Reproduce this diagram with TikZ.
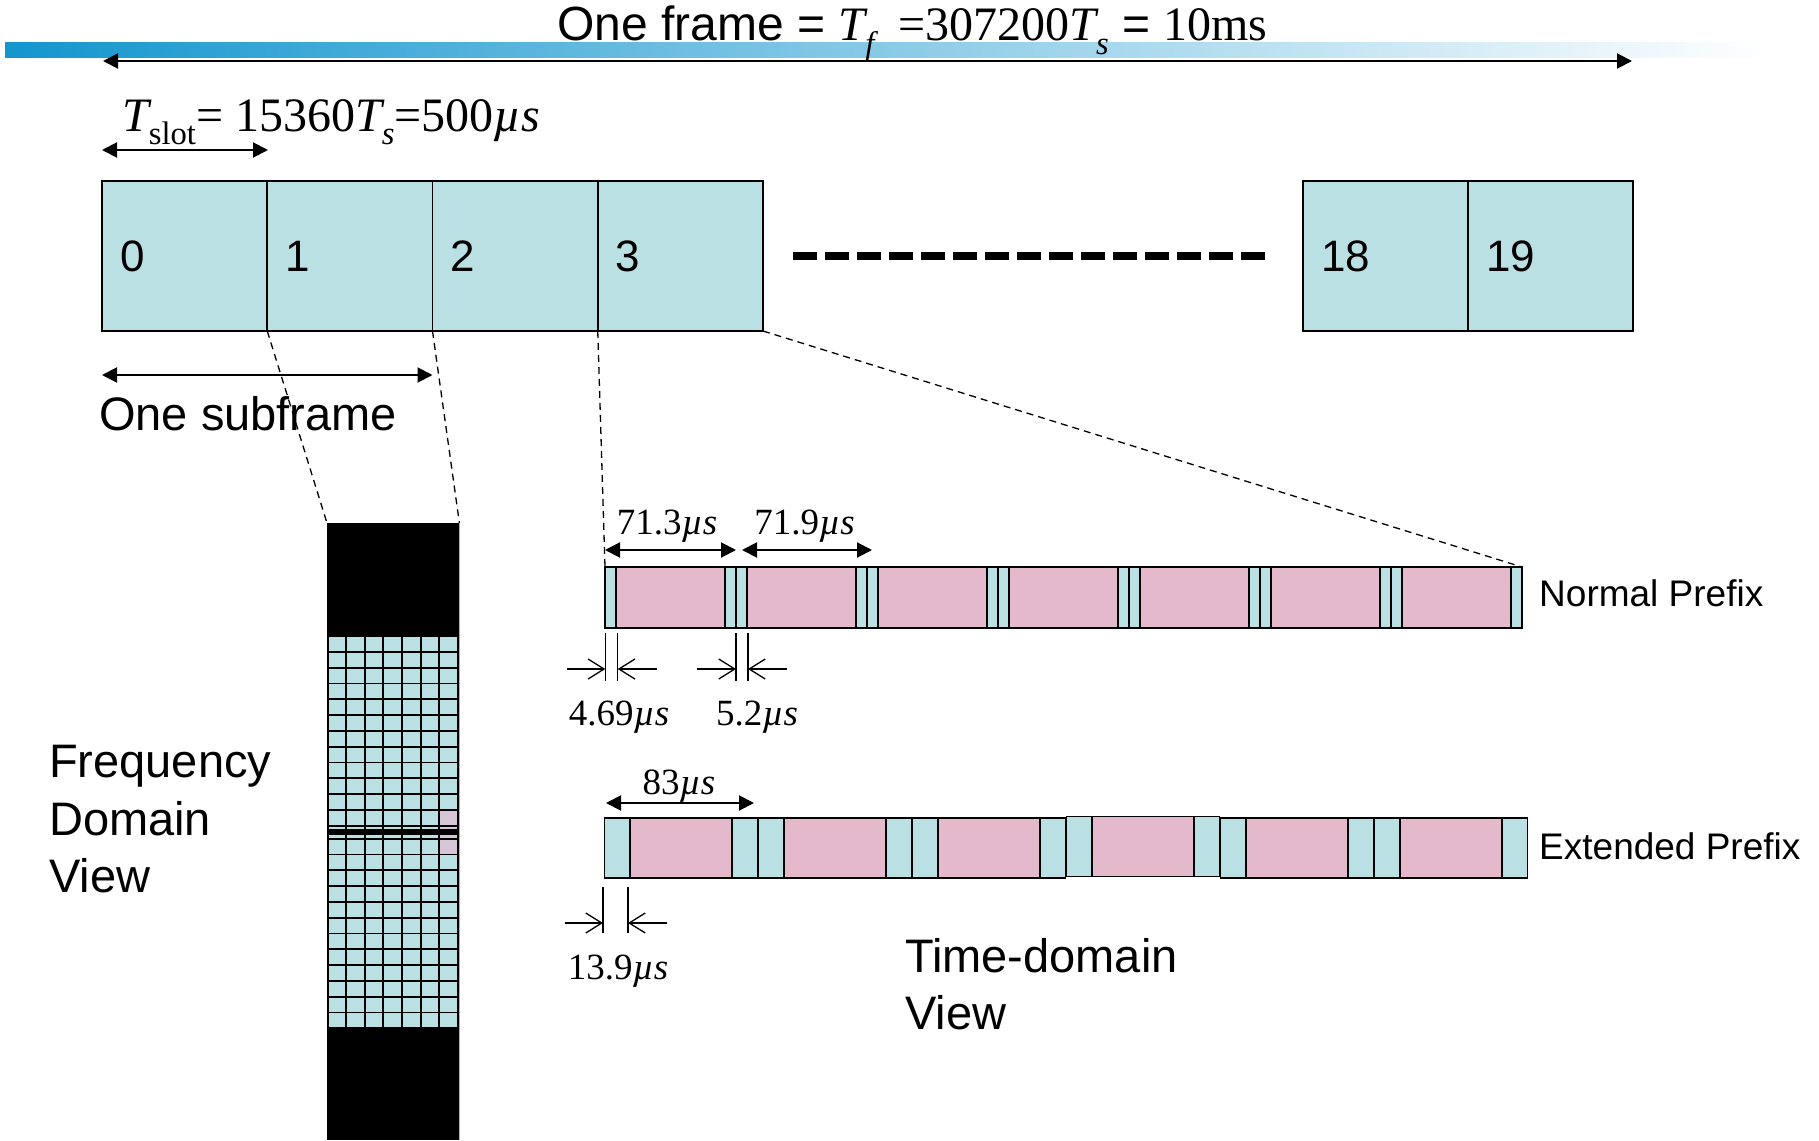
\documentclass[tikz,border=0pt]{standalone}
\usepackage{fontspec}
\setmainfont{Liberation Serif}
\newfontfamily\arialf{Liberation Sans}
\usetikzlibrary{arrows.meta,calc}

\definecolor{slotfill}{RGB}{187,224,227}
\definecolor{symfill}{RGB}{229,185,204}
\definecolor{rbfill}{RGB}{214,197,214}
\definecolor{barblue}{RGB}{19,150,206}
\definecolor{barmid}{RGB}{160,200,228}

% lowered, reduced subscript in running text
\newcommand\dn[1]{\raisebox{-0.28em}{\scalebox{0.68}{#1}}}
\newcommand\us{{\itshape µs}}

\begin{document}
\begin{tikzpicture}[x=1pt,y=-1pt,
  slotbox/.style={draw, line width=1.8pt, outer sep=0pt, fill=slotfill, minimum width=165.25pt,
    minimum height=150pt, inner xsep=18pt, text width=129pt, align=left,
    anchor=north west, font=\arialf\fontsize{44}{52}\selectfont},
  dimarrow/.style={line width=2pt,
    {Triangle[length=15pt,width=15pt]}-{Triangle[length=15pt,width=15pt]}},
  barbarrow/.style={line width=1.3pt, -{Straight Barb[length=16pt,width=20pt]}},
  tick/.style={line width=1.3pt},
  zoomline/.style={line width=1.3pt, dash pattern=on 7pt off 5pt},
  cell/.style={draw=black, line width=1.5pt},
  tnr/.style={inner sep=0pt, anchor=base, font=\fontsize{37}{44}\selectfont},
  sans/.style={inner sep=0pt, font=\arialf\fontsize{47}{57.5}\selectfont},
  sanssmall/.style={inner sep=0pt, anchor=west, font=\arialf\fontsize{37}{44}\selectfont}]

\useasboundingbox (0,0) rectangle (1819,1140);

% header bar with fading
\shade[left color=barblue, middle color=barmid, right color=white] (5,42.5) rectangle (1770,57.5);

% one frame
\coordinate (fl) at (103,61);
\coordinate (fr) at (1632,61);
\draw[dimarrow] (fl) -- (fr);
\node[inner sep=0pt, anchor=base west, font=\fontsize{48}{56}\selectfont] (ttl) at (557,41)
  {{\arialf One frame = }{\itshape T}\dn{\itshape f}\ \ =307200{\itshape T}\dn{\itshape s}{\arialf\ = }10ms};

% slot duration
\node[inner sep=0pt, anchor=base west, font=\fontsize{48}{56}\selectfont] (tslot) at (122,131)
  {{\itshape T}\dn{slot}= 15360{\itshape T}\dn{\itshape s}=500{\itshape µs}};
\coordinate (sl) at (102,150);
\coordinate (sr) at (268,150);
\draw[dimarrow] (sl) -- (sr);

% slots of the frame
\node[slotbox] (s0) at (102,181) {0};
\node[slotbox] (s1) at (s0.north east) {1};
\node[slotbox] (s2) at (s1.north east) {2};
\node[slotbox] (s3) at (s2.north east) {3};
\node[slotbox, minimum width=165pt] (s18) at (1303,181) {18};
\node[slotbox, minimum width=165pt] (s19) at (s18.north east) {19};
\draw[line width=8pt, dash pattern=on 24pt off 8pt]
  ($(s3.east)+(29.5,0)$) -- ($(s18.west)+(-38,0)$);

% one subframe
\draw[dimarrow] (s0.south west |- 0,375) -- (s2.south west |- 0,375);
\node[sans, anchor=west] (sub) at (99,414) {One subframe};

% frequency-domain view
\node[fill=black, inner sep=0pt, minimum width=132pt, minimum height=617pt,
  anchor=north west] (fd) at (327,523) {};
\draw[gray!60, line width=1pt] (fd.north east) -- (fd.south east);
\foreach \c in {0,...,6}{
  \foreach \r in {0,...,11}{
    \fill[slotfill] (328.5+18.6*\c,637+15.8*\r) rectangle ++(16.6,14);
    \fill[slotfill] (328.5+18.6*\c,839.6+15.8*\r) rectangle ++(16.6,14);
  }
  \fill[slotfill] (328.5+18.6*\c,826.6) rectangle ++(16.6,2.6);
  \fill[slotfill] (328.5+18.6*\c,835.2) rectangle ++(16.6,2.8);
}
\fill[rbfill] (328.5+18.6*6,637+15.8*11) rectangle ++(16.6,14);
\fill[rbfill] (328.5+18.6*6,826.6) rectangle ++(16.6,2.6);
\fill[rbfill] (328.5+18.6*6,835.2) rectangle ++(16.6,2.8);
\fill[rbfill] (328.5+18.6*6,839.6) rectangle ++(16.6,14);
\node[sans, anchor=north west, align=left] (fdv) at (49,745) {Frequency\\Domain\\View};

% normal cyclic prefix: 7 symbols per slot
\foreach \i in {0,...,6}{
  \pgfmathsetmacro\xa{605+131*\i}
  \draw[cell, fill=slotfill] (\xa,567) rectangle ++(11,61);
  \draw[cell, fill=symfill] (\xa+11,567) rectangle ++(109,61);
  \draw[cell, fill=slotfill] (\xa+120,567) rectangle ++(11,61);
}
\coordinate (nw) at (605,567);
\coordinate (ne) at (1522,567);
\node[sanssmall] (np) at (1539,593) {Normal Prefix};

% extended cyclic prefix: 6 symbols per slot
\foreach \j/\dy in {0/0,1/0,2/0,3/-1.5,4/0,5/0}{
  \pgfmathsetmacro\xb{604.5+154*\j}
  \draw[cell, fill=slotfill] (\xb,818+\dy) rectangle ++(25.5,60);
  \draw[cell, fill=symfill] (\xb+25.5,818+\dy) rectangle ++(102,60);
  \draw[cell, fill=slotfill] (\xb+127.5,818+\dy) rectangle ++(25.5,60);
}
\node[sanssmall] (ep) at (1539,846) {Extended Prefix};
\node[sans, anchor=north west, align=left] (tdv) at (905,938) {Time-domain\\View};

% zoom lines from the slots
\draw[zoomline] (s1.south west) -- (fd.north west);
\draw[zoomline] (s2.south west) -- (fd.north east);
\draw[zoomline] (s3.south west) -- (nw);
\draw[zoomline] (s3.south east) -- (ne);

% symbol lengths, normal prefix
\coordinate (a1) at (605,550); \coordinate (a2) at (736,550);
\coordinate (a3) at (742,550); \coordinate (a4) at (872,550);
\draw[dimarrow] (a1) -- (a2);
\draw[dimarrow] (a3) -- (a4);
\node[tnr] (l713) at (667,534) {71.3\us};
\node[tnr] (l719) at (804.5,534) {71.9\us};

% cyclic prefix lengths, normal prefix
\coordinate (t1a) at (605.3,633); \coordinate (t1b) at (605.3,681);
\coordinate (t2a) at (617.7,633); \coordinate (t2b) at (617.7,681);
\draw[tick] (t1a) -- (t1b);
\draw[tick] (t2a) -- (t2b);
\coordinate (b1) at (567,669); \coordinate (b2) at (657,669);
\draw[barbarrow] (b1) -- (t1a |- b1);
\draw[barbarrow] (b2) -- (t2a |- b2);
\node[tnr] (l469) at (619,725.5) {4.69\us};

\coordinate (t3a) at (736,633); \coordinate (t3b) at (736,681);
\coordinate (t4a) at (748,633); \coordinate (t4b) at (748,681);
\draw[tick] (t3a) -- (t3b);
\draw[tick] (t4a) -- (t4b);
\coordinate (b3) at (697,669); \coordinate (b4) at (787,669);
\draw[barbarrow] (b3) -- (t3a |- b3);
\draw[barbarrow] (b4) -- (t4a |- b4);
\node[tnr] (l52) at (757,725.5) {5.2\us};

% extended prefix lengths
\coordinate (c1) at (606,803); \coordinate (c2) at (754,803);
\draw[dimarrow] (c1) -- (c2);
\node[tnr] (l83) at (679,794) {83\us};

\coordinate (t5a) at (603,887); \coordinate (t5b) at (603,933);
\coordinate (t6a) at (628,887); \coordinate (t6b) at (628,933);
\draw[tick] (t5a) -- (t5b);
\draw[tick] (t6a) -- (t6b);
\coordinate (b5) at (565,923); \coordinate (b6) at (667,923);
\draw[barbarrow] (b5) -- (t5a |- b5);
\draw[barbarrow] (b6) -- (t6a |- b6);
\node[tnr] (l139) at (618,979) {13.9\us};

\end{tikzpicture}
\end{document}
